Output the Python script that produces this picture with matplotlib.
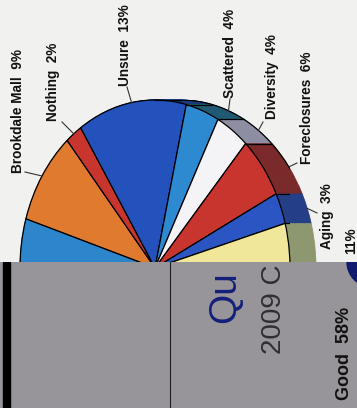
import matplotlib.pyplot as plt
import numpy as np
from matplotlib.patches import Rectangle, Circle

# survey answers, clockwise from the left edge of the pie
labels = ["Brookdale Mall", "Nothing", "Unsure", "Scattered", "Diversity",
          "Foreclosures", "Aging", "", "", ""]
values = [9, 2, 13, 4, 4, 6, 3, 11, 38, 10]

top_colors = ["#e07a2e", "#c8352f", "#2452bd", "#2e8ad0", "#f4f4f7",
              "#c8352f", "#2b55c2", "#f1e79a", "#3a8a4a", "#2d86cc"]
side_colors = ["#8a4a1c", "#7a2424", "#1b3a7a", "#1f5a72", "#8e8ea2",
               "#7a2a2a", "#243f86", "#8e9870", "#24602e", "#1d5680"]

# label text anchor (x, bottom y) and leader start, in pixels
label_xy = [(18, 173), (53, 121), (125, 86), (230, 98), (272, 119),
            (307, 164), (327, 249), (351, 254), None, None]
leader_xy = [(25, 172), (62, 122), (127, 87), (230, 99), (263, 122),
             (297, 163), (317, 213), None, None, None]

W, H = 357, 408
CX, CY, RX, RY = 155, 268, 135, 168
DEPTH = 26 / RX
START = 163


def to_pie(px, py):
    return (px - CX) / RX, (CY - py) / RY


fig = plt.figure(figsize=(W / 100, H / 100), dpi=100, facecolor="#f1f1ef")
plt.rcParams["font.family"] = ["Liberation Sans", "DejaVu Sans"]

ax = fig.add_axes([(CX - RX) / W, 1 - (CY + RY) / H, 2 * RX / W, 2 * RY / H])

# side walls of the 3d pie, stacked copies shifted to the right
for off in np.linspace(DEPTH, 0, 30):
    wedges, _ = ax.pie(values, colors=side_colors, startangle=START,
                       counterclock=False, center=(off, 0), radius=1,
                       wedgeprops=dict(linewidth=0.6))
    for w in wedges:
        w.set_edgecolor(w.get_facecolor())

t = np.linspace(-np.pi / 2, np.pi / 2, 200)
ax.plot(np.cos(t) + DEPTH, np.sin(t), color="black", lw=0.9)
ax.plot([0, DEPTH], [1, 1], color="black", lw=0.9)

cum = np.cumsum(values)
for c in cum:
    th = np.radians(START - 360 * c / 100)
    if np.cos(th) > 0:
        ax.plot([np.cos(th), np.cos(th) + DEPTH], [np.sin(th)] * 2,
                color="black", lw=0.9)

# top face
ax.pie(values, colors=top_colors, startangle=START, counterclock=False,
       radius=1, wedgeprops=dict(edgecolor="black", linewidth=0.9))

ax.set_aspect("auto")
ax.set_xlim(-1, 1)
ax.set_ylim(-1, 1)
ax.axis("off")

for i, (name, v) in enumerate(zip(labels, values)):
    if label_xy[i] is None:
        continue
    text = f"{name}  {v}%" if name else f"{v}%"
    x, y = to_pie(*label_xy[i])
    ax.text(x, y, text, rotation=90, rotation_mode="anchor", ha="left",
            va="center", fontsize=9.8, fontweight="bold", color="#111111",
            clip_on=False)
    if leader_xy[i] is None:
        continue
    mid = np.radians(START - 360 * (cum[i] - v / 2) / 100)
    ex = np.cos(mid) + (DEPTH if np.cos(mid) > 0 else 0)
    ey = np.sin(mid)
    sx, sy = to_pie(*leader_xy[i])
    ax.plot([sx, ex], [sy, ey], color="#333333", lw=0.8, clip_on=False)

# second sheet laid over the bottom of the page
TOP = 262
ov = fig.add_axes([0, 0, 1, (H - TOP) / H])
ov.set_xlim(0, W)
ov.set_ylim(H, TOP)
ov.set_facecolor("#979599")
ov.set_xticks([])
ov.set_yticks([])
for s in ov.spines.values():
    s.set_visible(False)

ov.add_patch(Rectangle((3, TOP), 7, H - TOP, color="black"))
ov.axvline(170, color="#1e1e1e", lw=0.8)
ov.add_patch(Circle((372, TOP), 25, color="#101a6e", clip_on=True))

ov.text(225, 323, "Qu", rotation=90, rotation_mode="anchor", ha="left",
        va="center", fontsize=28, color="#13207a", clip_on=True)
ov.text(274, 354, "2009 C", rotation=90, rotation_mode="anchor", ha="left",
        va="center", fontsize=20, color="#2e2e34", clip_on=True)
ov.text(344.5, 400, "Good  58%", rotation=90, rotation_mode="anchor",
        ha="left", va="center", fontsize=13, fontweight="bold",
        color="#111111", clip_on=True)

fig.savefig("out.png", dpi=100, facecolor=fig.get_facecolor())
